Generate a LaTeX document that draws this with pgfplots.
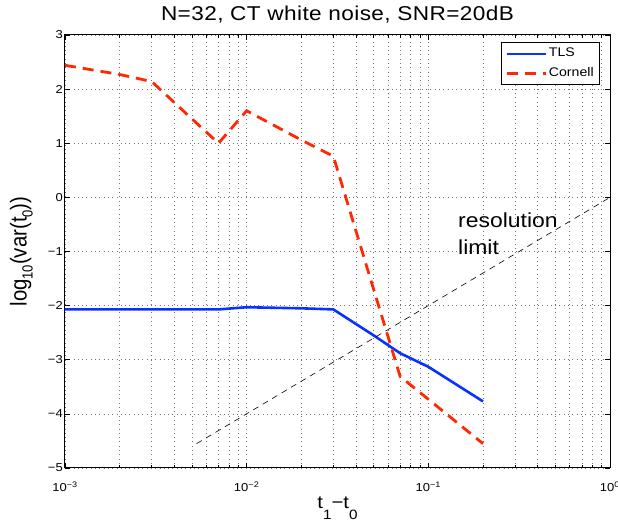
\documentclass[border=0pt]{standalone}
\usepackage{pgfplots}
\pgfplotsset{compat=1.18}
\usepackage{fontspec}
\setmainfont{Liberation Sans}[FakeStretch=1.13]
\newfontfamily\titlefont{Liberation Sans}[FakeStretch=1.13, LetterSpace=2]
\newfontfamily\yfont{Liberation Sans}[FakeStretch=0.885]
\definecolor{tlsblue}{RGB}{10,50,255}
\definecolor{corred}{RGB}{255,40,0}
\newcommand{\xsub}[1]{\raisebox{-10.5pt}{\fontsize{13.5}{14}\selectfont #1}}
\newcommand{\ysub}[1]{\raisebox{-6pt}{\fontsize{14.7}{15}\selectfont #1}}
\begin{document}
\begin{tikzpicture}
\begin{axis}[
  name=ax,
  scale only axis,
  width=545pt, height=433pt,
  xmode=log,
  xmin=0.001, xmax=1,
  ymin=-5, ymax=3,
  xtick={0.001,0.01,0.1,1},
  xticklabels={{10\textsuperscript{−3}},{10\textsuperscript{−2}},{10\textsuperscript{−1}},{10\textsuperscript{0}}},
  ytick={-5,-4,-3,-2,-1,0,1,2,3},
  yticklabels={−5,−4,−3,−2,−1,0,1,2,3},
  tick label style={font=\fontsize{11.5}{13}\selectfont},
  xticklabel style={anchor=base, yshift=-24pt, inner sep=0pt},
  yticklabel style={anchor=east, inner sep=0pt, xshift=-2pt},
  tick align=inside,
  xtick pos=both, ytick pos=both,
  major tick length=5pt, minor tick length=3pt,
  tick style={line width=0.6pt, black},
  grid=both,
  major grid style={black!55, line width=0.6pt, dash pattern=on 0.7pt off 3.6pt},
  minor grid style={black!55, line width=0.6pt, dash pattern=on 0.7pt off 3.6pt},
  minor y tick num=0,
  axis line style={line width=1pt},
  every axis title shift=0pt,
  title={\titlefont N=32, CT white noise, SNR=20dB},
  title style={font=\fontsize{20}{22}\selectfont, at={(axis description cs:0.5,1.0346)}, anchor=base, inner sep=0pt},
  xlabel={t\xsub{1}−t\xsub{0}},
  ylabel={\yfont log\ysub{10}(var(t\ysub{0}))},
  xlabel style={font=\fontsize{18}{20}\selectfont, at={(axis description cs:0.5,-0.0947)}, anchor=base, inner sep=0pt},
  ylabel style={font=\fontsize{23}{26}\selectfont, at={(axis description cs:-0.0703,0.5)}, anchor=base, inner sep=0pt},
  legend style={at={(0.9817,0.9827)}, anchor=north east, font=\fontsize{12.5}{14}\selectfont, draw=black, line width=0.7pt, inner xsep=4pt, inner ysep=3pt, row sep=4pt, nodes={text height=9pt, text depth=3pt}},
  legend image code/.code={\draw[#1] (0pt,0pt) -- (39pt,0pt);},
  legend cell align=left,
]
\addplot[tlsblue, line width=2.6pt] coordinates {
(0.001,-2.07) (0.002,-2.07) (0.003,-2.07) (0.005,-2.07) (0.007,-2.07) (0.01,-2.03) (0.02,-2.05) (0.03,-2.07) (0.05,-2.55) (0.07,-2.88) (0.1,-3.13) (0.2,-3.77)
};
\addlegendentry{TLS}
\addplot[corred, line width=2.8pt, dash pattern=on 11pt off 7pt] coordinates {
(0.001,2.44) (0.002,2.27) (0.003,2.14) (0.005,1.45) (0.007,1.0) (0.01,1.6) (0.02,1.06) (0.03,0.76) (0.05,-1.7) (0.07,-3.31) (0.1,-3.73) (0.2,-4.55)
};
\addlegendentry{Cornell}
\addplot[black, line width=0.6pt, dash pattern=on 6pt off 5pt, forget plot] coordinates {
(0.0053,-4.55) (1,0)
};
\node[anchor=base west, inner sep=0pt, font=\fontsize{20.3}{24}\selectfont] at (axis cs:0.1456,-0.565) {resolution};
\node[anchor=base west, inner sep=0pt, font=\fontsize{20.3}{24}\selectfont] at (axis cs:0.1456,-1.064) {limit};
\end{axis}
\pgfresetboundingbox
\useasboundingbox ([xshift=-65pt,yshift=-57pt]ax.south west) rectangle ([xshift=8pt,yshift=35pt]ax.north east);
\end{tikzpicture}
\end{document}
